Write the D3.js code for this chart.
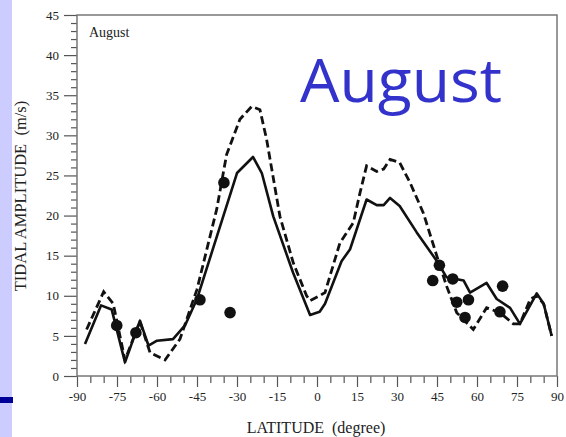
<!DOCTYPE html>
<html>
<head>
<meta charset="utf-8">
<script src="https://cdn.jsdelivr.net/npm/d3@7/dist/d3.min.js"></script>
<style>
  html, body { margin: 0; padding: 0; background: #ffffff; }
  svg { display: block; }
</style>
</head>
<body>
<svg id="chart" width="566" height="437"></svg>
<script>
// Model curve (solid): latitude (deg) and amplitude (m/s)
const solidLat = [-87, -81, -77, -72, -66.4, -63.2, -60, -54, -49.5, -45, -30, -24, -20.7, -16.4, -9, -2.6, 1, 3, 9.2, 12.4, 18.6, 22.4, 25, 27.4, 31, 37.4, 45, 48.6, 55, 57.4, 63.6, 67.4, 72.4, 76.1, 82.4, 85, 88];
const solidAmp = [4.0, 8.8, 8.3, 1.7, 6.9, 3.8, 4.4, 4.6, 6.3, 9.6, 25.3, 27.3, 25.3, 19.9, 12.9, 7.6, 8.0, 9.0, 14.3, 15.8, 22.0, 21.3, 21.3, 22.2, 21.2, 17.9, 14.3, 12.3, 11.9, 10.4, 11.6, 9.6, 8.5, 6.5, 10.3, 9.0, 5.0];

// Model curve (dashed)
const dashLat = [-86.4, -80, -76.4, -72, -66.4, -62.6, -57, -51.4, -45, -37.6, -33.9, -28.9, -24.5, -21.4, -18.9, -13.9, -8.9, -3.9, -2.6, 1, 3, 8.6, 13.6, 16.1, 18.6, 22.4, 25, 27.4, 31, 34.9, 39.9, 44.9, 48.6, 52.4, 58.6, 63.6, 68.6, 73.6, 76.1, 80, 82.4, 85, 88];
const dashAmp = [5.8, 10.5, 9.0, 2.0, 6.8, 2.9, 2.0, 4.6, 10.8, 20.8, 27.6, 32.0, 33.6, 33.2, 29.5, 19.9, 14.1, 10.0, 9.4, 10.0, 10.4, 16.6, 19.1, 22.8, 26.2, 25.5, 25.8, 27.0, 26.6, 24.1, 20.3, 15.0, 11.2, 7.9, 5.8, 8.5, 7.9, 6.5, 6.5, 9.6, 10.0, 9.0, 5.0];

// Observations (filled circles)
const obsLat = [-75.1, -67.9, -43.9, -34.9, -32.6, 45.9, 43.4, 50.9, 52.4, 56.8, 55.5, 69.6, 68.6];
const obsAmp = [6.3, 5.4, 9.5, 24.1, 7.9, 13.8, 11.9, 12.1, 9.2, 9.5, 7.3, 11.2, 8.0];

const xMajorTicks = [-90, -75, -60, -45, -30, -15, 0, 15, 30, 45, 60, 75, 90];
const yMajorTicks = [0, 5, 10, 15, 20, 25, 30, 35, 40, 45];

const svg = d3.select("#chart");
const W = 566, H = 437;
const plot = { left: 77, right: 557, top: 15, bottom: 376 };

// slide decorations on the left edge
svg.append("rect").attr("x", 0).attr("y", 0).attr("width", 12).attr("height", H).attr("fill", "#ccccff");
svg.append("rect").attr("x", 0).attr("y", 397).attr("width", 13).attr("height", 6).attr("fill", "#000099");

const x = d3.scaleLinear().domain([-90, 90]).range([plot.left, plot.right]);
const y = d3.scaleLinear().domain([0, 45]).range([plot.bottom, plot.top]);

const axisColor = "#777";
const serif = "'Liberation Serif', 'Times New Roman', serif";
const plain = d => String(d);

// minor ticks
const xMinor = d3.range(-90, 91, 5).filter(v => v % 15 !== 0);
const yMinor = d3.range(0, 46, 1).filter(v => v % 5 !== 0);

svg.append("g").attr("transform", `translate(0,${plot.bottom})`)
  .call(d3.axisBottom(x).tickValues(xMinor).tickSize(7).tickFormat(""));
svg.append("g").attr("transform", `translate(0,${plot.bottom})`)
  .call(d3.axisBottom(x).tickValues(xMajorTicks).tickSize(11).tickPadding(5).tickFormat(plain));

svg.append("g").attr("transform", `translate(${plot.left},0)`)
  .call(d3.axisLeft(y).tickValues(yMinor).tickSize(6).tickFormat(""));
svg.append("g").attr("transform", `translate(${plot.left},0)`)
  .call(d3.axisLeft(y).tickValues(yMajorTicks).tickSize(13).tickPadding(5).tickFormat(plain));

svg.selectAll(".domain").remove();
svg.selectAll(".tick line").attr("stroke", "#555").attr("stroke-width", 1.2);
svg.selectAll(".tick text")
  .attr("font-family", serif).attr("font-size", 13).attr("fill", "#222");

// frame
svg.append("rect")
  .attr("x", plot.left).attr("y", plot.top)
  .attr("width", plot.right - plot.left).attr("height", plot.bottom - plot.top)
  .attr("fill", "none").attr("stroke", axisColor).attr("stroke-width", 1.5);

const line = d3.line().x(d => x(d[0])).y(d => y(d[1]));

svg.append("path")
  .datum(dashLat.map((v, i) => [v, dashAmp[i]]))
  .attr("d", line)
  .attr("fill", "none").attr("stroke", "#111").attr("stroke-width", 2.8)
  .attr("stroke-dasharray", "8,4");

svg.append("path")
  .datum(solidLat.map((v, i) => [v, solidAmp[i]]))
  .attr("d", line)
  .attr("fill", "none").attr("stroke", "#111").attr("stroke-width", 2.6)
  .attr("stroke-linejoin", "round");

svg.append("g").selectAll("circle")
  .data(obsLat.map((v, i) => [v, obsAmp[i]]))
  .join("circle")
  .attr("cx", d => x(d[0])).attr("cy", d => y(d[1])).attr("r", 5.8)
  .attr("fill", "#111");

// labels
svg.append("text")
  .attr("x", 89).attr("y", 37)
  .attr("font-family", serif).attr("font-size", 14).attr("fill", "#222")
  .text("August");

svg.append("text")
  .attr("transform", `translate(316,433)`)
  .attr("text-anchor", "middle")
  .attr("font-family", serif).attr("font-size", 16).attr("fill", "#222")
  .attr("xml:space", "preserve")
  .text("LATITUDE  (degree)");

svg.append("text")
  .attr("transform", `translate(26,196) rotate(-90)`)
  .attr("text-anchor", "middle")
  .attr("font-family", serif).attr("font-size", 16.5).attr("fill", "#222")
  .attr("xml:space", "preserve")
  .text("TIDAL AMPLITUDE  (m/s)");

svg.append("text")
  .attr("x", 300).attr("y", 102)
  .attr("font-family", "'Comic Sans MS', 'Open Sans', sans-serif")
  .attr("font-size", 60).attr("fill", "#3333cc")
  .attr("textLength", 202).attr("lengthAdjust", "spacingAndGlyphs")
  .text("August");
</script>
</body>
</html>
